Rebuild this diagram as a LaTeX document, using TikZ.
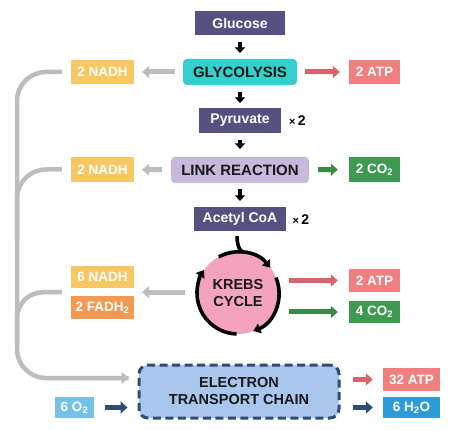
\documentclass[tikz,border=0pt]{standalone}
\usepackage{fontspec}
\setmainfont{Liberation Sans}
\usetikzlibrary{arrows.meta,calc}
\definecolor{slate}{HTML}{545180}
\definecolor{glyc}{HTML}{33D0CC}
\definecolor{linkc}{HTML}{C8B8DE}
\definecolor{nadhc}{HTML}{F7C763}
\definecolor{fadhc}{HTML}{F29A54}
\definecolor{atpc}{HTML}{F08080}
\definecolor{co2c}{HTML}{3D9A50}
\definecolor{o2c}{HTML}{74C1EA}
\definecolor{h2oc}{HTML}{2D9BD8}
\definecolor{krebsc}{HTML}{F4A3BE}
\definecolor{etcc}{HTML}{A9C7EC}
\definecolor{etcb}{HTML}{2E4D74}
\definecolor{grayc}{HTML}{BDBDBD}
\definecolor{redar}{HTML}{D9636C}
\definecolor{greenar}{HTML}{3A8A46}
\begin{document}
\begin{tikzpicture}[x=1pt,y=-1pt,
  dark/.style={fill=slate,text=white,inner sep=0pt,font=\bfseries\fontsize{14}{16}\selectfont},
  proc/.style={rounded corners=4pt,text=black!90,inner sep=0pt,font=\bfseries\fontsize{15}{17}\selectfont},
  lab/.style={inner sep=0pt,text=white,font=\bfseries\fontsize{13.5}{15}\selectfont},
  blk/.style={line width=4pt,-{Triangle[length=5.5pt,width=10.5pt]}},
  side/.style={line width=5pt,-{Triangle[length=7pt,width=12pt]}},
  grayline/.style={line width=4.5pt,grayc},
  ringline/.style={line width=3.6pt,black},
  ringarrow/.style={line width=3.6pt,black,-{Triangle[length=7pt,width=10pt]}},
  times/.style={font=\bfseries\fontsize{14}{16}\selectfont}
]
\useasboundingbox (0,0) rectangle (474,430);
\fill[white] (0,0) rectangle (474,430);

% main column
\node[dark,minimum width=90pt,minimum height=24pt] (glu) at (240,23) {Glucose};
\node[proc,fill=glyc,minimum width=114pt,minimum height=26pt] (gly) at (240,72) {GLYCOLYSIS};
\node[dark,minimum width=82pt,minimum height=25pt] (pyr) at (240,120.5) {Pyruvate};
\node[proc,fill=linkc,minimum width=138pt,minimum height=26pt] (lnk) at (240,170) {LINK REACTION};
\node[dark,minimum width=92pt,minimum height=24pt] (acc) at (240,219) {Acetyl CoA};
\node[times] (x1) at (297.5,121) {{\fontsize{11}{13}\selectfont×}\,2};
\node[times] (x2) at (301,220) {{\fontsize{11}{13}\selectfont×}\,2};

\node[circle,fill=krebsc,minimum size=82pt,inner sep=0pt,align=center,
  font=\bfseries\fontsize{14.5}{17}\selectfont,text=black!90] (kc) at (238,293) {KREBS\\CYCLE};

\node[draw=etcb,dash pattern=on 8pt off 4.5pt,line width=3pt,fill=etcc,rounded corners=9pt,
  minimum width=200pt,minimum height=53pt,inner sep=0pt,align=center,
  font=\bfseries\fontsize{14.5}{17}\selectfont,text=black!90] (etc) at (239,391.5) {ELECTRON\\TRANSPORT CHAIN};

% left labels
\node[lab,fill=nadhc,minimum width=63pt,minimum height=24pt] (nadh1) at (102.5,72) {2 NADH};
\node[lab,fill=nadhc,minimum width=63pt,minimum height=25pt] (nadh2) at (102.5,169.5) {2 NADH};
\node[lab,fill=nadhc,minimum width=63pt,minimum height=22pt] (nadh3) at (102.5,277) {6 NADH};
\node[lab,fill=fadhc,minimum width=63pt,minimum height=23pt] (fadh) at (102.5,307.5) {2 FADH\textsubscript{2}};
\node[lab,fill=o2c,minimum width=39pt,minimum height=21pt] (o2) at (74.5,407.5) {6 O\textsubscript{2}};

% right labels
\node[lab,fill=atpc,minimum width=51pt,minimum height=24pt] (atp1) at (374.5,72) {2 ATP};
\node[lab,fill=co2c,minimum width=51pt,minimum height=25pt] (co2a) at (374.5,169.5) {2 CO\textsubscript{2}};
\node[lab,fill=atpc,minimum width=51pt,minimum height=23pt] (atp2) at (374.5,280.5) {2 ATP};
\node[lab,fill=co2c,minimum width=51pt,minimum height=22pt] (co2b) at (374.5,312) {4 CO\textsubscript{2}};
\node[lab,fill=atpc,minimum width=57pt,minimum height=23pt] (atp3) at (411.5,379.5) {32 ATP};
\node[lab,fill=h2oc,minimum width=57pt,minimum height=21pt] (h2o) at (411.5,407.5) {6 H\textsubscript{2}O};

% main arrows
\draw[blk,shorten <=7pt,shorten >=6pt] (glu) -- (gly);
\draw[blk,shorten <=7pt,shorten >=5pt] (gly) -- (pyr);
\draw[blk,shorten <=7pt,shorten >=8pt] (pyr) -- (lnk);
\draw[blk,shorten <=6pt,shorten >=6pt] (lnk) -- (acc);

% side arrows
\draw[side,grayc,shorten <=8pt,shorten >=8pt] (gly) -- (nadh1);
\draw[side,redar,shorten <=8pt,shorten >=9pt] (gly) -- (atp1);
\draw[side,grayc,shorten <=9pt,shorten >=8pt] (lnk) -- (nadh2);
\draw[side,greenar,shorten <=9pt,shorten >=11pt] (lnk) -- (co2a);
\coordinate (nf) at ($(nadh3.east)!.5!(fadh.east)$);
\coordinate (nfw) at ($(nadh3.west)!.5!(fadh.west)$);
\draw[side,grayc,shorten <=12pt,shorten >=8pt] (kc.west |- nf) -- (nf);
\draw[side,redar,shorten <=10pt,shorten >=11pt] (kc.east |- atp2) -- (atp2.west);
\draw[side,greenar,shorten <=10pt,shorten >=11pt] (kc.east |- co2b) -- (co2b.west);
\draw[side,etcb,shorten <=11pt,shorten >=10pt] (o2.east) -- (o2 -| etc.west);
\draw[side,redar,shorten <=12pt,shorten >=10pt] (etc.east |- atp3) -- (atp3.west);
\draw[side,etcb,shorten <=12pt,shorten >=10pt] (etc.east |- h2o) -- (h2o.west);

% gray return lines
\coordinate (vb) at (17,378);
\draw[grayline,rounded corners=29pt] ([xshift=-9pt]nadh1.west) -| (vb) -- ([xshift=-9pt]vb -| etc.west);
\draw[grayline,-{Triangle[length=7pt,width=12pt]}] ([xshift=-20pt]vb -| etc.west) -- ([xshift=-9pt]vb -| etc.west);
\draw[grayline,rounded corners=29pt] ([xshift=-9pt]nadh2.west) -| (17,240);
\draw[grayline,rounded corners=26pt] ([xshift=-9pt]nfw) -| (17,345);

% Krebs ring
\coordinate (ktop) at ([shift={(82:41pt)}]kc.center);
\draw[ringline,shorten <=5pt] ([xshift=-3pt]acc.south) .. controls +(0,12) and +(-5,-1) .. (ktop);
\draw[ringarrow] ([shift={(118:41pt)}]kc.center) arc[start angle=118,end angle=38,radius=41pt];
\draw[ringarrow] ([shift={(22:41pt)}]kc.center) arc[start angle=22,end angle=-68,radius=41pt];
\draw[ringarrow] ([shift={(-92:41pt)}]kc.center) arc[start angle=268,end angle=146,radius=41pt];
\end{tikzpicture}
\end{document}
